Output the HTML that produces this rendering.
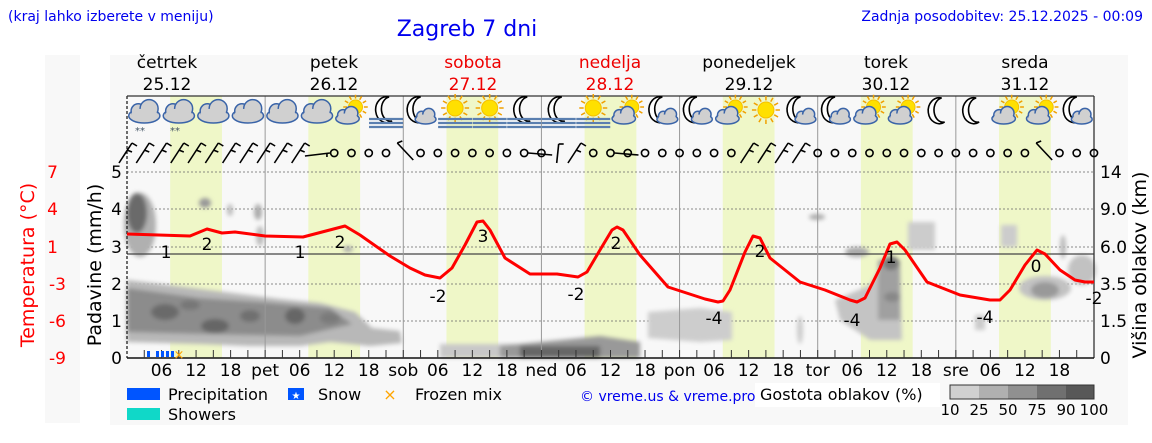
<!DOCTYPE html>
<html><head><meta charset="utf-8"><style>
body{margin:0;background:#fff;width:1152px;height:443px;overflow:hidden}
svg{display:block;font-family:"DejaVu Sans","Liberation Sans",sans-serif}
</style></head><body>
<svg id="s" width="1152" height="443" viewBox="0 0 1152 443" xmlns="http://www.w3.org/2000/svg">
<defs>
<filter id="bl" x="-20%" y="-20%" width="140%" height="140%"><feGaussianBlur stdDeviation="2"/></filter>
</defs>
<rect x="45" y="55" width="35" height="368" fill="#f8f8f8"/>
<rect x="110" y="55" width="1018" height="370" fill="#f8f8f8"/>
<text x="8" y="21" font-size="14" fill="#0000ee">(kraj lahko izberete v meniju)</text>
<text x="467" y="36" font-size="22" fill="#0000ee" text-anchor="middle">Zagreb 7 dni</text>
<text x="1143" y="21" font-size="14" fill="#0000ee" text-anchor="end">Zadnja posodobitev: 25.12.2025 - 00:09</text>
<g font-size="17" text-anchor="middle">
<text x="167" y="68">četrtek</text><text x="167" y="90">25.12</text>
<text x="334" y="68">petek</text><text x="334" y="90">26.12</text>
<text x="473" y="68" fill="#ee0000">sobota</text><text x="473" y="90" fill="#ee0000">27.12</text>
<text x="610" y="68" fill="#ee0000">nedelja</text><text x="610" y="90" fill="#ee0000">28.12</text>
<text x="749" y="68">ponedeljek</text><text x="749" y="90">29.12</text>
<text x="886" y="68">torek</text><text x="886" y="90">30.12</text>
<text x="1025" y="68">sreda</text><text x="1025" y="90">31.12</text>
</g>
<g id="bands"></g>
<g id="grid" stroke="#666" stroke-width="0.8" stroke-dasharray="2,2">
<line x1="127" x2="1094" y1="172" y2="172"/><line x1="127" x2="1094" y1="209" y2="209"/>
<line x1="127" x2="1094" y1="247" y2="247"/><line x1="127" x2="1094" y1="284" y2="284"/>
<line x1="127" x2="1094" y1="321" y2="321"/>
</g>
<g id="clouds" filter="url(#bl)">
<path d="M127,280 L160,284 L200,289 L240,294 L280,299 L320,303 L355,312 L372,328 L400,331 L402,343 L370,346 L330,342 L300,346 L250,346 L200,344 L127,342Z" fill="#b8b8b8"/>
<path d="M127,288 L200,298 L260,302 L330,308 L352,324 L300,336 L200,334 L127,332Z" fill="#8c8c8c"/>
<ellipse cx="165" cy="312" rx="14" ry="8" fill="#6a6a6a"/><ellipse cx="215" cy="326" rx="14" ry="7" fill="#666"/>
<ellipse cx="295" cy="316" rx="10" ry="8" fill="#666"/><ellipse cx="250" cy="316" rx="10" ry="6" fill="#707070"/>
<ellipse cx="190" cy="305" rx="10" ry="5" fill="#777"/><ellipse cx="330" cy="318" rx="10" ry="6" fill="#7a7a7a"/>
<ellipse cx="140" cy="225" rx="16" ry="32" fill="#b0b0b0"/><ellipse cx="137" cy="213" rx="10" ry="20" fill="#6a6a6a"/>
<ellipse cx="205" cy="203" rx="6" ry="5" fill="#999"/><ellipse cx="230" cy="210" rx="3" ry="6" fill="#bbb"/>
<ellipse cx="258" cy="212" rx="4" ry="8" fill="#aaa"/><ellipse cx="260" cy="236" rx="4" ry="10" fill="#bbb"/>
<ellipse cx="348" cy="249" rx="5" ry="3" fill="#aaa"/>
<rect x="440" y="344" width="120" height="14" fill="#c8c8c8"/>
<path d="M500,358 L500,346 L560,340 L600,336 L640,342 L640,358Z" fill="#999"/>
<rect x="520" y="346" width="80" height="12" fill="#666"/>
<path d="M648,312 L700,308 L732,312 L732,340 L700,342 L648,338Z" fill="#cdcdcd"/>
<ellipse cx="817" cy="217" rx="8" ry="3" fill="#aaa"/><ellipse cx="857" cy="252" rx="12" ry="5" fill="#aaa"/>
<path d="M835,300 L870,285 L885,260 L900,265 L902,340 L870,340 L840,320Z" fill="#c4c4c4"/>
<rect x="878" y="260" width="22" height="60" fill="#a0a0a0"/>
<ellipse cx="891" cy="263" rx="8" ry="7" fill="#777"/><ellipse cx="892" cy="297" rx="8" ry="5" fill="#888"/>
<rect x="908" y="222" width="27" height="28" fill="#ccc"/>
<rect x="1001" y="225" width="16" height="22" fill="#ccc"/>
<ellipse cx="1063" cy="247" rx="3" ry="12" fill="#bbb"/>
<ellipse cx="1045" cy="288" rx="26" ry="12" fill="#c2c2c2"/><ellipse cx="1045" cy="290" rx="14" ry="8" fill="#999"/>
<ellipse cx="1082" cy="270" rx="14" ry="15" fill="#c2c2c2"/>
<rect x="975" y="315" width="10" height="15" fill="#ccc"/>
<ellipse cx="800" cy="330" rx="3" ry="14" fill="#ccc"/>
</g>
<line x1="127" x2="1094" y1="254" y2="254" stroke="#444" stroke-width="1.2"/>
<g id="vl" stroke="#999" stroke-width="1"></g>
<line x1="127" x2="127" y1="96" y2="358" stroke="#222" stroke-width="1.3" stroke-dasharray="3,2"/>
<line x1="127" x2="1094" y1="96" y2="96" stroke="#333" stroke-width="1.3"/>
<line x1="1094" x2="1094" y1="96" y2="358" stroke="#333" stroke-width="1.3"/>
<line x1="127" x2="1094" y1="358" y2="358" stroke="#111" stroke-width="1.5"/>
<g id="ticks" stroke="#333" stroke-width="1"></g>
<polyline fill="none" stroke="#ff0000" stroke-width="3" stroke-linejoin="round" points="127,234 190,236 207,229 222,233 235,232 265,236 303,237 345,226 360,235 390,256 410,268 425,275 440,278 452,268 465,245 477,222 483,221 490,230 505,258 530,274 557,274 578,277 587,272 600,250 612,230 617,227 623,230 640,255 668,287 705,299 718,302 723,301 730,290 745,252 753,236 760,238 770,258 800,282 825,290 850,300 857,302 865,298 880,268 890,244 897,242 905,250 927,282 960,295 990,300 1000,300 1010,290 1025,265 1037,250 1045,254 1060,270 1075,280 1085,282 1094,282"/>
<g font-size="17" text-anchor="middle">
<text x="166" y="258">1</text><text x="207" y="250">2</text><text x="300" y="258">1</text><text x="340" y="248">2</text>
<text x="483" y="242">3</text><text x="438" y="302">-2</text><text x="576" y="300">-2</text><text x="616" y="249">2</text>
<text x="714" y="324">-4</text><text x="760" y="257">2</text><text x="852" y="326">-4</text><text x="891" y="263">1</text>
<text x="985" y="323">-4</text><text x="1036" y="272">0</text><text x="1094" y="304">-2</text>
</g>
<g id="icons"></g>
<g id="wind" stroke="#000" stroke-width="1.6" fill="none"></g>
<g font-size="17" text-anchor="end">
<text x="122" y="178">5</text><text x="122" y="215">4</text><text x="122" y="253">3</text>
<text x="122" y="290">2</text><text x="122" y="327">1</text><text x="122" y="364">0</text>
</g>
<g font-size="17" fill="#ff0000" text-anchor="end">
<text x="58" y="178">7</text><text x="58" y="215">4</text><text x="58" y="253">1</text>
<text x="66" y="290">-3</text><text x="66" y="327">-6</text><text x="66" y="364">-9</text>
</g>
<g font-size="17">
<text x="1100" y="178">14</text><text x="1100" y="215">9.0</text><text x="1100" y="253">6.0</text>
<text x="1100" y="290">3.5</text><text x="1100" y="327">1.5</text><text x="1100" y="364">0</text>
</g>
<text transform="translate(34,265) rotate(-90)" font-size="19" fill="#ff0000" text-anchor="middle">Temperatura (°C)</text>
<text transform="translate(101,265) rotate(-90)" font-size="19" text-anchor="middle">Padavine (mm/h)</text>
<text transform="translate(1146,265) rotate(-90)" font-size="19" text-anchor="middle">Višina oblakov (km)</text>
<g id="xl" font-size="17" text-anchor="middle"></g>
<g font-size="16">
<rect x="127" y="388" width="33" height="12" fill="#0055ff"/><text x="168" y="400">Precipitation</text>
<rect x="288" y="388" width="16" height="12" fill="#0055ff"/><text x="296" y="399" fill="#fff" font-size="10" text-anchor="middle">★</text><text x="318" y="400">Snow</text>
<text x="390" y="400" fill="#ffa500" text-anchor="middle" font-size="16">×</text><text x="415" y="400">Frozen mix</text>
<rect x="127" y="408" width="33" height="12" fill="#10d8c8"/><text x="168" y="420">Showers</text>
<text x="580" y="401" font-size="14" fill="#0000ee">© vreme.us &amp; vreme.pro</text>
<rect x="755" y="383" width="185" height="24" fill="#fff"/>
<text x="760" y="400">Gostota oblakov (%)</text>
<rect x="950" y="385" width="29" height="14" fill="#d0d0d0"/><rect x="979" y="385" width="29" height="14" fill="#b0b0b0"/>
<rect x="1008" y="385" width="29" height="14" fill="#909090"/><rect x="1037" y="385" width="29" height="14" fill="#707070"/>
<rect x="1066" y="385" width="28" height="14" fill="#585858"/>
<rect x="950" y="385" width="144" height="14" fill="none" stroke="#333"/>
<g font-size="15" text-anchor="middle"><text x="950" y="415">10</text><text x="979" y="415">25</text><text x="1008" y="415">50</text><text x="1037" y="415">75</text><text x="1066" y="415">90</text><text x="1094" y="415">100</text></g>
</g>
<g fill="#0055ff"><rect x="147" y="351" width="3" height="6"/><rect x="156" y="351" width="3" height="6"/><rect x="161" y="351" width="3" height="6"/><rect x="166" y="351" width="3" height="6"/><rect x="171" y="351" width="3" height="6"/></g>
<text x="179" y="359" fill="#ffa500" font-size="13" text-anchor="middle">×</text>
</svg>
<script>
var NS="http://www.w3.org/2000/svg",D=138.14,X0=127;
function el(p,t,a,txt){var e=document.createElementNS(NS,t);for(var k in a)e.setAttribute(k,a[k]);if(txt!==undefined)e.textContent=txt;p.appendChild(e);return e;}
var bands=document.getElementById('bands');
for(var d=0;d<7;d++){el(bands,'rect',{x:X0+D*d+D*7.5/24,y:96,width:D*9/24,height:262,fill:'#eff7c8'});}
var vl=document.getElementById('vl');
for(var d=1;d<7;d++){var x=X0+D*d;el(vl,'line',{x1:x,x2:x,y1:96,y2:358});}
var tk=document.getElementById('ticks');
for(var i=1;i<56;i++){var x=X0+D*i/8;el(tk,'line',{x1:x,x2:x,y1:358,y2:350});}
var xl=document.getElementById('xl'),dn=['','pet','sob','ned','pon','tor','sre'];
for(var d=0;d<7;d++){var b=X0+D*d;if(d>0)el(xl,'text',{x:b,y:376},dn[d]);
el(xl,'text',{x:b+D/4,y:376},'06');el(xl,'text',{x:b+D/2,y:376},'12');el(xl,'text',{x:b+3*D/4,y:376},'18');}
var ic=document.getElementById('icons');
function cloud(g,cx,cy,s,fill){var gg=el(g,'g',{fill:fill||'#d0d0d0',stroke:'#3a64a8','stroke-width':1.5});
el(gg,'ellipse',{cx:cx,cy:cy+4*s,rx:13*s,ry:6*s});el(gg,'circle',{cx:cx-5*s,cy:cy,r:6*s});el(gg,'circle',{cx:cx+4*s,cy:cy-2*s,r:7.5*s});
el(g,'ellipse',{cx:cx,cy:cy+3*s,rx:11*s,ry:5*s,fill:fill||'#d0d0d0'});}
function sun(g,cx,cy,r){var gg=el(g,'g',{stroke:'#f0a000','stroke-width':1.5});for(var a=0;a<12;a++){var t=a*Math.PI/6;el(gg,'line',{x1:cx+r*1.2*Math.cos(t),y1:cy+r*1.2*Math.sin(t),x2:cx+r*1.75*Math.cos(t),y2:cy+r*1.75*Math.sin(t)});}
el(g,'circle',{cx:cx,cy:cy,r:r,fill:'#ffe000',stroke:'#f5c000'});}
function moon(g,cx,cy){el(g,'path',{d:'M'+(cx+3)+','+(cy-13)+' A11,13 0 1,0 '+(cx+6)+','+(cy+11)+' A9,12 0 0,1 '+(cx+3)+','+(cy-13)+'Z',fill:'#fff',stroke:'#000','stroke-width':1.6});}
function fog(g,cx,cy){var gg=el(g,'g',{stroke:'#5a7fb0','stroke-width':2.2});for(var j=0;j<3;j++)el(gg,'line',{x1:cx-17,x2:cx+17,y1:cy+7+j*4,y2:cy+7+j*4});}
var types=['c','c','c','c','c','c','sc','mf','mc','sf','sf','mf','mf','sf','sc','mc','mc','sc','s','mc','mc','sc','sc','m','m','sc','sc','mc'];
for(var k=0;k<28;k++){var cx=X0+17.3+D/4*k,cy=112,t=types[k];
if(t=='c'){cloud(ic,cx,cy-1,1.2);}
else if(t=='sc'){sun(ic,cx+4,cy-5,7);cloud(ic,cx-4,cy+3,0.9);}
else if(t=='s'){sun(ic,cx,cy-2,8);}
else if(t=='sf'){sun(ic,cx,cy-4,8);fog(ic,cx,cy);}
else if(t=='mf'){moon(ic,cx,cy-2);fog(ic,cx,cy);}
else if(t=='mc'){moon(ic,cx-3,cy-2);cloud(ic,cx+5,cy+4,0.8);}
else if(t=='m'){moon(ic,cx,cy-1);}}
el(ic,'text',{x:135,y:134,'font-size':10,fill:'#456'},'**');el(ic,'text',{x:170,y:134,'font-size':10,fill:'#456'},'**');
var w=document.getElementById('wind'),ws={};
for(var i=0;i<=10;i++)ws[i]='b';ws[11]='h';ws[16]='d';ws[23]='h2';ws[25]='v';ws[26]='b';ws[28]='h2';
for(var i=36;i<=39;i++)ws[i]='b';ws[53]='d';
for(var i=0;i<=56;i++){var x=X0+D/8*i,y=153,t=ws[i]||'o';
if(t=='o')el(w,'circle',{cx:x,cy:y,r:3.6});
else if(t=='b'){el(w,'line',{x1:x-8,y1:y+10,x2:x+5,y2:y-10});el(w,'line',{x1:x+5,y1:y-10,x2:x+10,y2:y-7});el(w,'line',{x1:x,y1:y-3,x2:x+5,y2:y-1});}
else if(t=='d'){el(w,'line',{x1:x-6,y1:y-10,x2:x+10,y2:y+7});el(w,'line',{x1:x-6,y1:y-10,x2:x-1,y2:y-12});}
else if(t=='h'){el(w,'line',{x1:x-12,y1:y+3,x2:x+13,y2:y});el(w,'line',{x1:x+10,y1:y,x2:x+10,y2:y+4});}
else if(t=='h2'){el(w,'circle',{cx:x,cy:y,r:3.6});el(w,'line',{x1:x+4,y1:y,x2:x+28,y2:y+2});}
else if(t=='v'){el(w,'line',{x1:x-2,y1:y+10,x2:x,y2:y-9});el(w,'line',{x1:x,y1:y-9,x2:x+5,y2:y-9});}}
</script>
</body></html>
